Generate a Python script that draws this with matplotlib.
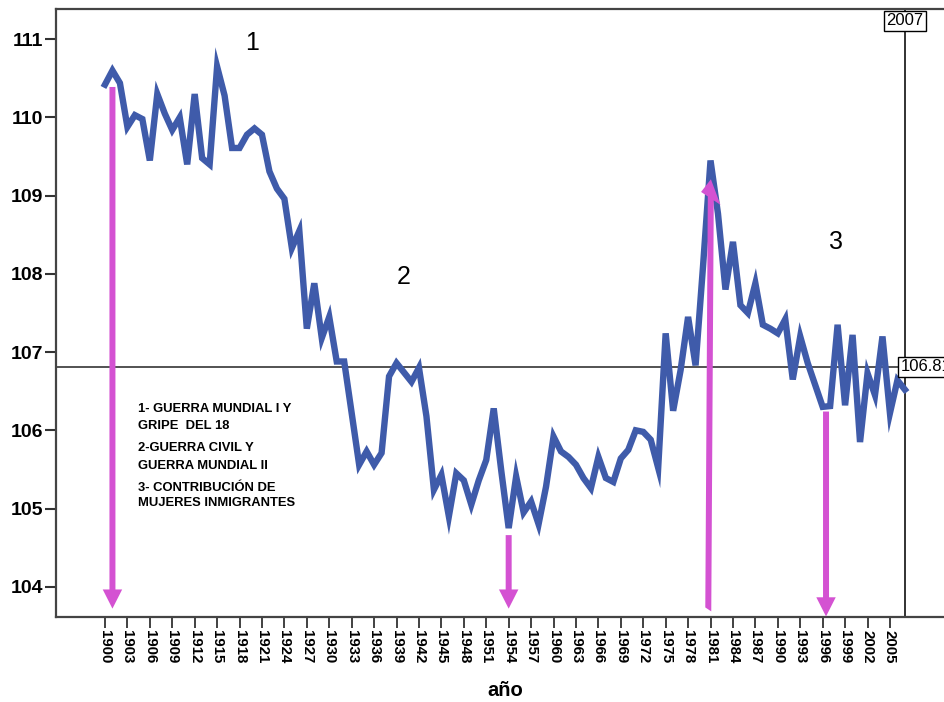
import numpy as np
import matplotlib
matplotlib.use("Agg")
import matplotlib.pyplot as plt
from matplotlib.transforms import blended_transform_factory

plt.rcParams['font.family'] = ['Liberation Sans', 'DejaVu Sans']

# Data
years = np.arange(1900, 2008)
ratio = [
    110.42, 110.60, 110.44, 109.88, 110.03, 109.98, 109.45, 110.30, 110.05, 109.84,  # 1900-09
    110.00, 109.40, 110.30, 109.48, 109.40, 110.65, 110.28, 109.61, 109.61, 109.78,  # 1910-19
    109.86, 109.78, 109.31, 109.09, 108.96, 108.33, 108.55, 107.30, 107.88, 107.18,  # 1920-29
    107.45, 106.88, 106.88, 106.22, 105.56, 105.73, 105.56, 105.71, 106.69, 106.86,  # 1930-39
    106.74, 106.62, 106.80, 106.18, 105.24, 105.43, 104.90, 105.45, 105.36, 105.05,  # 1940-49
    105.36, 105.62, 106.28, 105.49, 104.75, 105.41, 104.95, 105.09, 104.80, 105.28,  # 1950-59
    105.92, 105.73, 105.66, 105.56, 105.39, 105.26, 105.66, 105.39, 105.34, 105.64,  # 1960-69
    105.75, 106.00, 105.98, 105.88, 105.52, 107.24, 106.25, 106.77, 107.45, 106.83,  # 1970-79
    108.10, 109.45, 108.77, 107.80, 108.41, 107.60, 107.50, 107.88, 107.35, 107.30,  # 1980-89
    107.24, 107.42, 106.65, 107.20, 106.86, 106.58, 106.30, 106.31, 107.35, 106.32,  # 1990-99
    107.22, 105.85, 106.73, 106.45, 107.20, 106.22, 106.64, 106.52,                  # 2000-07
]
mean_ref = 106.81
year_ref = 2007

# arrows: (x start, y start, x end, y end)
arrows = [
    (1901.0, 110.39, 1901.0, 103.72),
    (1954.0, 104.66, 1954.0, 103.72),
    (1980.7, 103.71, 1981.05, 109.21),
    (1996.45, 106.24, 1996.45, 103.62),
]
# period labels
period_labels = ['1', '2', '3']
period_pos = [(1919.7, 110.95), (1939.9, 107.96), (1997.8, 108.41)]
notes = [
    ['1- GUERRA MUNDIAL I Y', 'GRIPE  DEL 18'],
    ['2-GUERRA CIVIL Y', 'GUERRA MUNDIAL II'],
    ['3- CONTRIBUCIÓN DE', 'MUJERES INMIGRANTES'],
]
notes_y = [(106.27, 106.05), (105.77, 105.55), (105.26, 105.07)]

blue = '#3F5BAA'
magenta = '#D452D2'
W, H = 944, 702

fig = plt.figure(figsize=(W / 100, H / 100), dpi=100)
ax = fig.add_axes([56 / W, 85 / H, (965 - 56) / W, 608 / H])

ax.plot(years, ratio, color=blue, lw=4.6, solid_joinstyle='miter', zorder=3)

# reference lines
ax.axhline(mean_ref, color='#444444', lw=1.3, zorder=2)
ax.axvline(year_ref, color='#222222', lw=1.3, zorder=2)
trans = blended_transform_factory(ax.transData, ax.transAxes)
ax.text(year_ref, 0.981, str(year_ref), transform=trans, ha='center', va='center',
        fontsize=12, zorder=6,
        bbox=dict(boxstyle='square,pad=0.15', fc='white', ec='black', lw=1))
ax.text(year_ref - 0.55, mean_ref, f'{mean_ref:.2f}', ha='left', va='center',
        fontsize=12, zorder=6,
        bbox=dict(boxstyle='square,pad=0.15', fc='white', ec='black', lw=1))

# arrows
for x0, y0, x1, y1 in arrows:
    ax.arrow(x0, y0, x1 - x0, y1 - y0, width=0.8, head_width=2.6, head_length=0.245,
             length_includes_head=True, color=magenta, lw=0, zorder=5)

for lab, (px, py) in zip(period_labels, period_pos):
    ax.text(px, py, lab, fontsize=18, ha='center', va='center', zorder=6)

for lines, ys in zip(notes, notes_y):
    for line, yy in zip(lines, ys):
        ax.text(1904.4, yy, line, fontsize=9.4, fontweight='bold', ha='left', va='center',
                zorder=6)

ax.set_xlim(1893.45, 2015.04)
ax.set_ylim(103.613, 111.387)
ax.set_yticks(range(104, 112))
ax.set_xticks(range(1900, 2006, 3))
ax.set_xticklabels([str(y) for y in range(1900, 2006, 3)], rotation=-90,
                   fontsize=10.8, fontweight='bold')
for t in ax.get_yticklabels():
    t.set_fontsize(14)
    t.set_fontweight('bold')
ax.tick_params(axis='y', length=8, width=1.5, pad=1, color='#333333')
ax.tick_params(axis='x', length=8, width=1.3, pad=1, color='#333333')

for side in ['left', 'top', 'bottom', 'right']:
    ax.spines[side].set_color('#444444')
    ax.spines[side].set_linewidth(1.6)

fig.text(505 / W, 1 - 690 / H, 'año', ha='center', va='center', fontsize=14.5,
         fontweight='bold')

fig.savefig('out.png', dpi=100, facecolor='white')
